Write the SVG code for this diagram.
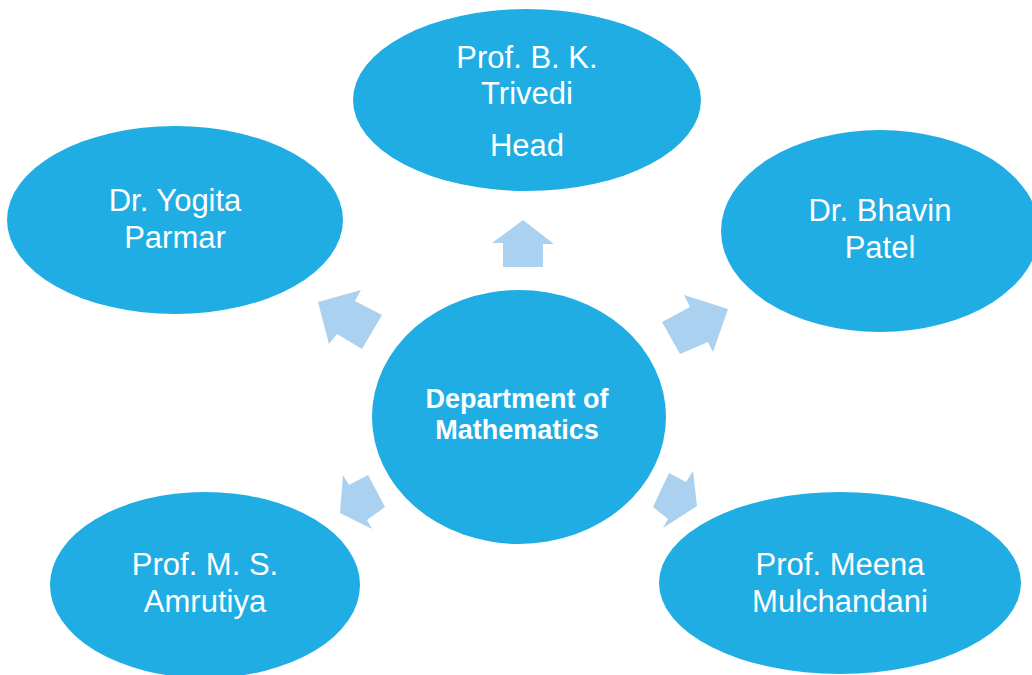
<svg xmlns="http://www.w3.org/2000/svg" width="1032" height="675" viewBox="0 0 1032 675">
<style>
.node{fill:#1FADE4}
.arr{fill:#AAD2F0}
.t{font-family:"Liberation Sans",Arial,sans-serif;font-size:31px;fill:#ffffff;text-anchor:middle}
.tb{font-family:"Liberation Sans",Arial,sans-serif;font-size:27px;font-weight:bold;fill:#ffffff;text-anchor:middle}
</style>
<rect width="1032" height="675" fill="#ffffff"/>
<g id="connectors">
<polygon class="arr" points="523,220 554,244 543,244 543,267 503,267 503,243 492,243"/>
<polygon class="arr" points="318,302 361,290 355,301 382,315 362,349 337,334 329,344"/>
<polygon class="arr" points="728,309 713,352 708,342 680,354 662,322 690,307 684,295"/>
<polygon class="arr" points="340,513 343,475 349,485 368,475 385,507 367,520 372,529"/>
<polygon class="arr" points="697,506 663,528 668,519 653,507 669,473 686,482 693,471"/>
</g>
<g id="node-head">
<ellipse class="node" cx="527" cy="100" rx="174" ry="91"/>
<text class="t" x="527" y="68">Prof. B. K.</text>
<text class="t" x="527" y="104">Trivedi</text>
<text class="t" x="527" y="156">Head</text>
</g>
<g id="node-yogita">
<ellipse class="node" cx="175" cy="220" rx="168" ry="94"/>
<text class="t" x="175" y="211">Dr. Yogita</text>
<text class="t" x="175" y="248">Parmar</text>
</g>
<g id="node-bhavin">
<ellipse class="node" cx="880" cy="231" rx="159" ry="101"/>
<text class="t" x="880" y="221">Dr. Bhavin</text>
<text class="t" x="880" y="258">Patel</text>
</g>
<g id="node-amrutiya">
<ellipse class="node" cx="205" cy="585" rx="155" ry="93"/>
<text class="t" x="205" y="575">Prof. M. S.</text>
<text class="t" x="205" y="612">Amrutiya</text>
</g>
<g id="node-meena">
<ellipse class="node" cx="840" cy="583" rx="181" ry="91"/>
<text class="t" x="840" y="575" font-size="33">Prof. Meena</text>
<text class="t" x="840" y="612" font-size="33">Mulchandani</text>
</g>
<g id="node-dept">
<ellipse class="node" cx="519" cy="417" rx="147" ry="127"/>
<text class="tb" x="517" y="408">Department of</text>
<text class="tb" x="517" y="439">Mathematics</text>
</g>
</svg>
